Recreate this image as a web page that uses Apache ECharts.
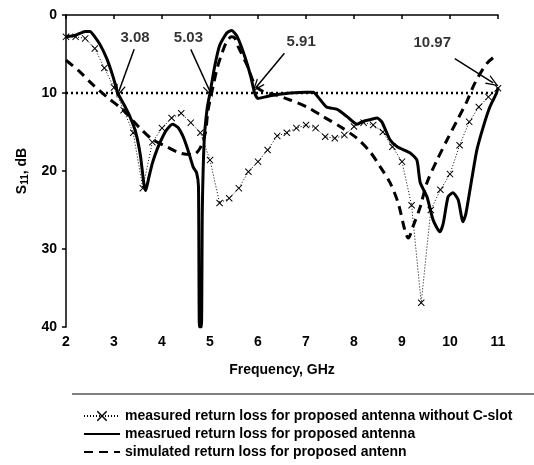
<!DOCTYPE html>
<html>
<head>
    <meta charset="utf-8" />
    <title></title>
    <style>
        body{ margin: 0; background: #fff; }
        #chart{ width: 534px; height: 465px; }
    </style>
    <script src="https://cdn.jsdelivr.net/npm/echarts@6/dist/echarts.min.js"></script>
</head>
<body>
<div id="chart"></div>
<script>
    // measured without C-slot (0.2 GHz steps, x markers)
    var noSlotFreq = [2.0,2.2,2.4,2.6,2.8,3.0,3.2,3.4,3.6,3.8,4.0,4.2,4.4,4.6,4.8,5.0,5.2,5.4,5.6,5.8,6.0,6.2,6.4,6.6,6.8,7.0,7.2,7.4,7.6,7.8,8.0,8.2,8.4,8.6,8.8,9.0,9.2,9.4,9.6,9.8,10.0,10.2,10.4,10.6,10.8,11.0];
    var noSlotS11 = [2.8,2.8,3.0,4.3,6.8,9.3,12.2,15.1,22.2,16.3,14.5,13.2,12.6,13.8,15.1,18.6,24.1,23.5,22.2,20.1,18.8,17.3,15.5,15.1,14.5,14.1,14.5,15.6,15.8,15.4,14.3,13.8,14.1,15.0,16.9,18.8,24.4,36.9,25.0,22.4,20.4,16.7,13.7,11.8,10.5,9.4];

    // measured with C-slot (solid)
    var measFreq = [2.0,2.2,2.4,2.5,2.6,2.71,2.85,2.98,3.08,3.2,3.33,3.45,3.55,3.62,3.66,3.72,3.8,3.9,4.0,4.1,4.22,4.33,4.44,4.54,4.65,4.72,4.76,4.78,4.82,4.84,4.88,4.94,5.0,5.1,5.2,5.35,5.45,5.55,5.65,5.75,5.85,5.93,6.0,6.15,6.4,6.67,7.0,7.15,7.25,7.43,7.65,7.85,8.06,8.2,8.35,8.48,8.58,8.75,8.9,9.17,9.31,9.38,9.52,9.65,9.79,9.86,9.96,10.06,10.17,10.27,10.33,10.46,10.56,10.69,10.83,10.97,11.0];
    var measS11 = [2.8,2.6,2.1,2.1,2.8,3.8,5.6,7.9,10.0,11.4,13.0,15.0,18.0,21.5,22.5,21.0,19.0,17.2,15.8,14.7,14.0,14.4,15.6,17.3,19.5,20.2,22.0,40,40,25.0,16.0,12.0,10.0,6.5,3.9,2.3,2.0,2.6,4.0,5.8,7.9,10.0,10.7,10.5,10.2,10.0,9.9,9.9,10.5,11.8,12.1,13.0,14.0,13.6,13.4,13.2,13.7,16.0,16.9,17.7,18.6,21.5,23.3,26.3,27.8,26.7,23.3,22.8,23.7,26.5,25.5,20.8,17.3,14.4,11.8,10.0,9.3];

    // simulated (dashed)
    var simFreq = [2.0,2.29,2.57,2.85,3.19,3.54,3.81,4.1,4.38,4.65,4.79,4.9,4.96,5.07,5.15,5.25,5.35,5.45,5.52,5.59,5.77,5.94,6.1,6.4,6.67,7.02,7.35,7.71,8.06,8.33,8.54,8.75,8.92,9.06,9.13,9.23,9.38,9.52,9.73,9.94,10.15,10.35,10.52,10.77,11.0];
    var simS11 = [5.8,7.3,9.0,10.5,12.2,14.5,16.0,16.9,17.7,17.9,17.1,15.2,12.2,9.0,6.8,4.9,3.4,2.8,3.0,4.1,6.4,9.0,9.8,10.3,10.9,11.8,13.0,14.3,15.8,17.5,19.4,21.5,24.1,27.6,28.6,27.1,24.6,21.5,18.6,16.0,13.5,11.1,8.7,6.2,5.0];

    // -10 dB reference and band-edge annotations
    var refLevel = 10;
    var refRange = [2, 10.97];
    var annotText = ['3.08', '5.03', '5.91', '10.97'];
    var annotLabelAt = [[3.44, 2.9], [4.55, 2.9], [6.9, 3.4], [9.63, 3.6]];
    var arrowFrom = [[3.42, 4.4], [4.6, 4.4], [6.55, 4.9], [10.1, 5.6]];
    var arrowTo = [[3.1, 9.8], [5.0, 9.8], [5.97, 9.2], [10.9, 8.7]];

    var xTicks = [2, 11, 1];
    var yTicks = [0, 40, 10];

    var names = [
        'measured return loss for proposed antenna without C-slot',
        'measrued return loss for proposed antenna',
        'simulated return loss for proposed antenn'
    ];

    function pairs(xs, ys) {
        var out = [];
        for (var i = 0; i < xs.length; i++) out.push([xs[i], ys[i]]);
        return out;
    }

    var crossPath = 'path://M0,1 L1,0 L5,4 L9,0 L10,1 L6,5 L10,9 L9,10 L5,6 L1,10 L0,9 L4,5 Z';
    // open V arrow head, tip pointing up
    var openArrow = 'path://M5,0 L10,12 L8.7,12 L5,3.2 L1.3,12 L0,12 Z';
    var font = '"Liberation Sans", Arial, sans-serif';

    var arrows = [];
    for (var i = 0; i < arrowFrom.length; i++) {
        arrows.push([{coord: arrowFrom[i]}, {coord: arrowTo[i]}]);
    }
    var labels = [];
    for (var j = 0; j < annotText.length; j++) {
        labels.push({value: annotLabelAt[j], name: annotText[j]});
    }

    var option = {
        backgroundColor: '#fff',
        animation: false,
        grid: {left: 66, right: 36, top: 15, bottom: 138},
        xAxis: {
            type: 'value',
            min: xTicks[0], max: xTicks[1], interval: xTicks[2],
            name: 'Frequency, GHz',
            nameLocation: 'middle',
            nameGap: 36,
            nameTextStyle: {color: '#000', fontFamily: font, fontWeight: 'bold', fontSize: 14},
            axisLine: {lineStyle: {color: '#000', width: 1.5}},
            axisTick: {length: 4, lineStyle: {color: '#000', width: 1.5}},
            axisLabel: {color: '#000', fontFamily: font, fontWeight: 'bold', fontSize: 14, margin: 8},
            splitLine: {show: false}
        },
        yAxis: {
            type: 'value',
            inverse: true,
            min: yTicks[0], max: yTicks[1], interval: yTicks[2],
            name: '{a|S}{b|11}{a|, dB}',
            nameLocation: 'middle',
            nameRotate: 90,
            nameGap: 36,
            nameTextStyle: {
                color: '#000',
                rich: {
                    a: {fontFamily: font, fontWeight: 'bold', fontSize: 14},
                    b: {fontFamily: font, fontWeight: 'bold', fontSize: 10, verticalAlign: 'bottom', padding: [5, 0, 0, 0]}
                }
            },
            axisLine: {show: true, lineStyle: {color: '#000', width: 1.5}},
            axisTick: {show: true, length: 4, lineStyle: {color: '#000', width: 1.5}},
            axisLabel: {color: '#000', fontFamily: font, fontWeight: 'bold', fontSize: 14, margin: 9},
            splitLine: {show: false}
        },
        legend: {
            data: [
                {name: names[0]},
                {name: names[1], itemStyle: {opacity: 0}},
                {name: names[2], itemStyle: {opacity: 0}}
            ],
            orient: 'vertical',
            left: 78,
            top: 404,
            itemWidth: 36,
            itemHeight: 13,
            itemGap: 4,
            textStyle: {color: '#000', fontFamily: font, fontWeight: 'bold', fontSize: 14}
        },
        graphic: [{
            type: 'line',
            shape: {x1: 72, y1: 394, x2: 534, y2: 394},
            style: {stroke: '#000', lineWidth: 1.2}
        }],
        series: [
            {
                name: names[0],
                type: 'line',
                data: pairs(noSlotFreq, noSlotS11),
                symbol: crossPath,
                symbolSize: 7,
                itemStyle: {color: '#000'},
                lineStyle: {color: '#000', width: 1, type: [1, 2]},
                z: 3
            },
            {
                name: names[1],
                type: 'line',
                data: pairs(measFreq, measS11),
                symbol: 'none',
                smooth: 0.2,
                itemStyle: {color: '#000'},
                lineStyle: {color: '#000', width: 3},
                z: 4
            },
            {
                name: names[2],
                type: 'line',
                data: pairs(simFreq, simS11),
                symbol: 'none',
                smooth: 0.3,
                itemStyle: {color: '#000'},
                lineStyle: {color: '#000', width: 3, type: [9, 6]},
                z: 4
            },
            {
                name: 'ref',
                type: 'line',
                data: [[refRange[0], refLevel], [refRange[1], refLevel]],
                symbol: 'none',
                lineStyle: {color: '#000', width: 2.4, type: [2, 3]},
                silent: true,
                z: 2
            },
            {
                name: 'annot',
                type: 'scatter',
                data: labels,
                symbolSize: 0,
                label: {
                    show: true,
                    position: 'inside',
                    formatter: '{b}',
                    color: '#000',
                    fontFamily: font,
                    fontWeight: 'bold',
                    fontSize: 15
                },
                markLine: {
                    silent: true,
                    symbol: ['none', openArrow],
                    symbolSize: [10, 13],
                    label: {show: false},
                    lineStyle: {color: '#000', width: 1.5, type: 'solid'},
                    data: arrows
                },
                z: 5
            }
        ]
    };

    var myChart = echarts.init(document.getElementById('chart'));
    myChart.setOption(option);
</script>
</body>
</html>
